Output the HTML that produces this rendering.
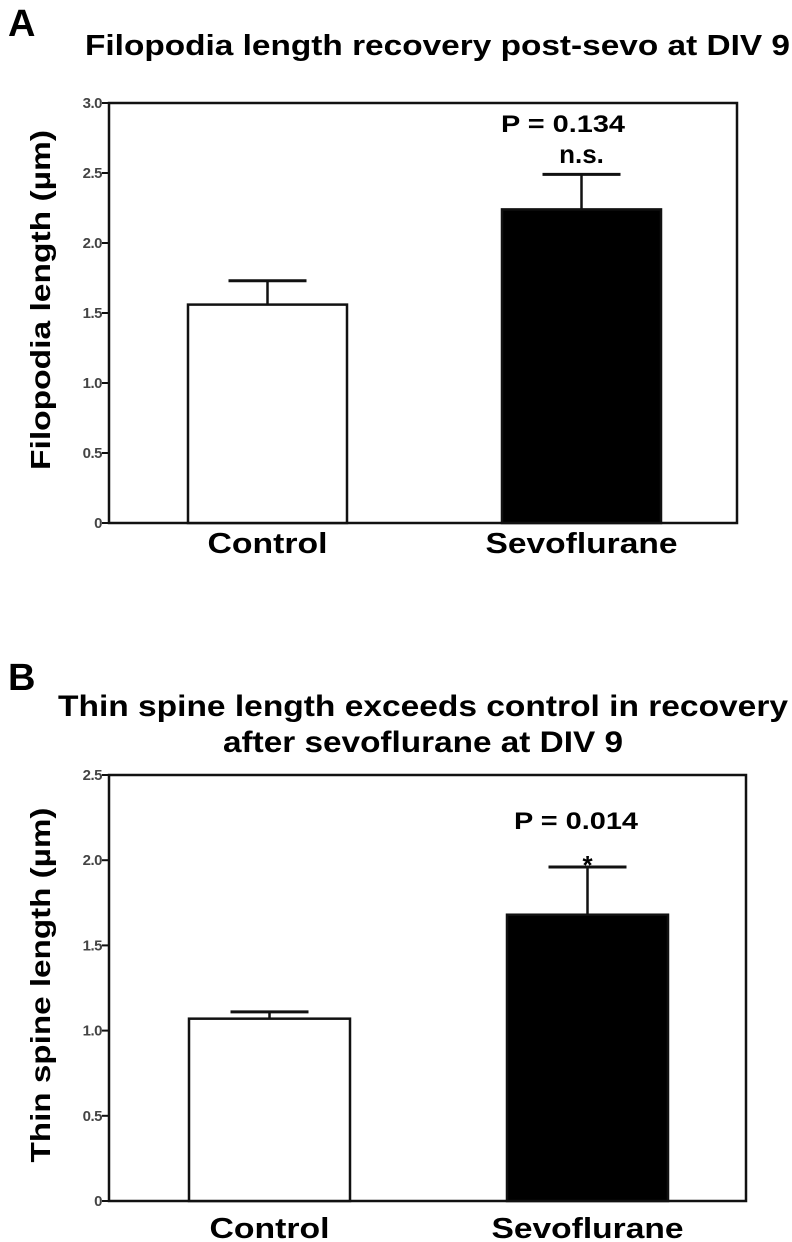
<!DOCTYPE html>
<html><head><meta charset="utf-8">
<style>
html,body{margin:0;padding:0;background:#fff;}
svg{display:block;font-family:"Liberation Sans",Arial,sans-serif;}
</style></head>
<body>
<svg id="fig" width="792" height="1242" viewBox="0 0 792 1242" xmlns="http://www.w3.org/2000/svg">
  <text x="8" y="36" font-size="38" font-weight="bold">A</text>
  <text x="85" y="55" font-size="29" font-weight="bold" textLength="705" lengthAdjust="spacingAndGlyphs">Filopodia length recovery post-sevo at DIV 9</text>
  <text x="8" y="690" font-size="38" font-weight="bold">B</text>
  <text x="423" y="716" font-size="30" font-weight="bold" text-anchor="middle" textLength="730" lengthAdjust="spacingAndGlyphs">Thin spine length exceeds control in recovery</text>
  <text x="423" y="752" font-size="30" font-weight="bold" text-anchor="middle" textLength="400" lengthAdjust="spacingAndGlyphs">after sevoflurane at DIV 9</text>
  <g id="chartA"></g>
  <g id="chartB"></g>
</svg>
<script>
// Panel A data
const catsA = ["Control", "Sevoflurane"];
const meansA = [1.56, 2.24];
const errsA = [0.17, 0.25];
const ticksA = [0, 0.5, 1.0, 1.5, 2.0, 2.5, 3.0];
const tickLabelsA = ["0", "0.5", "1.0", "1.5", "2.0", "2.5", "3.0"];
const annotA = ["P = 0.134", "n.s."];
// Panel B data
const catsB = ["Control", "Sevoflurane"];
const meansB = [1.07, 1.68];
const errsB = [0.04, 0.28];
const ticksB = [0, 0.5, 1.0, 1.5, 2.0, 2.5];
const tickLabelsB = ["0", "0.5", "1.0", "1.5", "2.0", "2.5"];
const annotB = ["P = 0.014", "*"];

const NS = "http://www.w3.org/2000/svg";
function mk(parent, tag, attrs, text) {
  const e = document.createElementNS(NS, tag);
  for (const k in attrs) e.setAttribute(k, attrs[k]);
  if (text !== undefined) e.textContent = text;
  parent.appendChild(e);
  return e;
}

function draw(g, cfg, cats, means, errs, ticks, tickLabels, annot) {
  const y = v => cfg.y0 - (v / cfg.max) * (cfg.y0 - cfg.yTop);
  const box = mk(g, "rect", {x: cfg.left, y: cfg.yTop, width: cfg.right - cfg.left, height: cfg.y0 - cfg.yTop, fill: "none", stroke: "#111", "stroke-width": 2.5});
  
  
  ticks.forEach((t, i) => {
    const ln = mk(g, "line", {x1: cfg.left - 7, x2: cfg.left, y1: y(t), y2: y(t), stroke: "#111", "stroke-width": 2});
    
    
    const tl = mk(g, "text", {x: cfg.left - 7, y: y(t) + 5, "font-size": 15, "font-weight": "bold", fill: "#444", "text-anchor": "end", "letter-spacing": "-0.5"}, tickLabels[i]);
    
    
  });
  const yt = mk(g, "text", {x: 0, y: 0, "font-size": 28, "font-weight": "bold", "text-anchor": "middle", textLength: cfg.yTitleLen, lengthAdjust: "spacingAndGlyphs", transform: `translate(${cfg.yTitleX},${cfg.yTitleC}) rotate(-90)`}, cfg.yTitle);
  
  
  cats.forEach((c, i) => {
    const x0 = cfg.barX[i], w = cfg.barW;
    const cx = x0 + w / 2;
    const top = y(means[i]), et = y(means[i] + errs[i]);
    const el = mk(g, "line", {x1: cx, x2: cx, y1: top, y2: et, stroke: "#111", "stroke-width": 2.5});
    
    
    const cap = mk(g, "line", {x1: cx - 39, x2: cx + 39, y1: et, y2: et, stroke: "#111", "stroke-width": 3});
    
    
    const r = mk(g, "rect", {x: x0, y: top, width: w, height: cfg.y0 - top, fill: i === 0 ? "#fff" : "#000", stroke: "#111", "stroke-width": 2.5});
    
    
    const lb = mk(g, "text", {x: cx, y: cfg.labelY, "font-size": 29, "font-weight": "bold", "text-anchor": "middle", textLength: cfg.labelLen[i], lengthAdjust: "spacingAndGlyphs"}, c);
    
    
  });
  const sx = cfg.barX[1] + cfg.barW / 2;
  const p = mk(g, "text", {x: cfg.pX, y: cfg.pY, "font-size": 24, "font-weight": "bold", "text-anchor": "middle", textLength: 124, lengthAdjust: "spacingAndGlyphs"}, annot[0]);
  
  
  const s = mk(g, "text", {x: sx, y: cfg.sY, "font-size": 26, "font-weight": "bold", "text-anchor": "middle"}, annot[1]);
  
  
}

draw(document.getElementById("chartA"),
  {left: 109, right: 737, yTop: 103, y0: 523, max: 3.0, barX: [188, 502], barW: 159, labelY: 553, labelLen: [120, 192], pX: 563, pY: 132, sY: 163, yTitleX: 50, yTitleC: 300, yTitleLen: 340, yTitle: "Filopodia length (µm)"},
  catsA, meansA, errsA, ticksA, tickLabelsA, annotA);
draw(document.getElementById("chartB"),
  {left: 109, right: 746, yTop: 775, y0: 1201, max: 2.5, barX: [189, 507], barW: 161, labelY: 1238, labelLen: [120, 192], pX: 576, pY: 829, sY: 874, yTitleX: 50, yTitleC: 985, yTitleLen: 355, yTitle: "Thin spine length (µm)"},
  catsB, meansB, errsB, ticksB, tickLabelsB, annotB);
</script>
</body></html>
